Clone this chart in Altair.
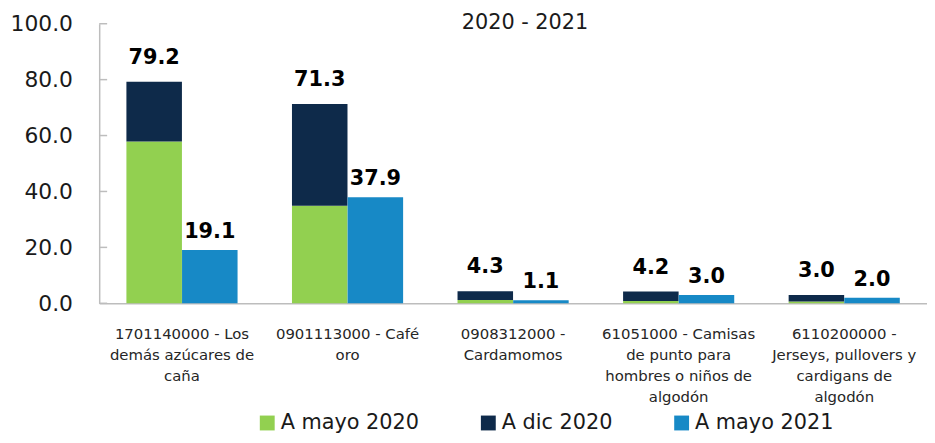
import altair as alt
import pandas as pd

categories = [
    "1701140000 - Los|demás azúcares de|caña",
    "0901113000 - Café|oro",
    "0908312000 -|Cardamomos",
    "61051000 - Camisas|de punto para|hombres o niños de|algodón",
    "6110200000 -|Jerseys, pullovers y|cardigans de|algodón",
]
mayo_2020 = [57.9, 34.9, 1.2, 0.8, 0.6]
dic_2020 = [79.2, 71.3, 4.3, 4.2, 3.0]
mayo_2021 = [19.1, 37.9, 1.1, 3.0, 2.0]
series = ["A mayo 2020", "A dic 2020", "A mayo 2021"]
colors = ["#92D050", "#0E2A4A", "#1789C6"]
y_ticks = [0, 20, 40, 60, 80, 100]

FONT = "DejaVu Sans"

rows = []
for c, g, d, b in zip(categories, mayo_2020, dic_2020, mayo_2021):
    rows.append(dict(cat=c, grp="a", series=series[0], lo=0.0, hi=g, label=d))
    rows.append(dict(cat=c, grp="a", series=series[1], lo=g, hi=d, label=d))
    rows.append(dict(cat=c, grp="b", series=series[2], lo=0.0, hi=b, label=b))
df = pd.DataFrame(rows)
ticks_df = pd.DataFrame({"v": y_ticks})

x_enc = alt.X(
    "cat:N",
    sort=categories,
    scale=alt.Scale(paddingInner=0.328, paddingOuter=0.164),
    axis=alt.Axis(
        title=None,
        labelAngle=0,
        labelExpr="split(datum.label, '|')",
        labelFont=FONT,
        labelFontSize=15,
        labelColor="#262626",
        labelLineHeight=21,
        labelPadding=24,
        labelBaseline="top",
        ticks=False,
        domainColor="#BDBDBD",
        domainWidth=1.5,
        labelLimit=200,
    ),
)
xoff = alt.XOffset("grp:N", scale=alt.Scale(paddingInner=0, paddingOuter=0))
y_scale = alt.Scale(domain=[0, 100], nice=False)

bars = alt.Chart(df).mark_bar(size=56).encode(
    x=x_enc,
    xOffset=xoff,
    y=alt.Y(
        "hi:Q",
        scale=y_scale,
        axis=alt.Axis(
            title=None,
            values=y_ticks,
            format=".1f",
            grid=False,
            ticks=False,
            labelFont=FONT,
            labelFontSize=22,
            labelColor="#1a1a1a",
            labelPadding=27,
            domainColor="#BDBDBD",
            domainWidth=1.5,
        ),
    ),
    y2="lo:Q",
    color=alt.Color(
        "series:N",
        scale=alt.Scale(domain=series, range=colors),
        sort=series,
        legend=alt.Legend(
            title=None,
            orient="none",
            direction="horizontal",
            legendX=159,
            legendY=392,
            symbolType="square",
            symbolSize=225,
            symbolStrokeWidth=0,
            labelFont=FONT,
            labelFontSize=21,
            labelColor="#1a1a1a",
            labelOffset=3,
            columnPadding=59,
            labelLimit=300,
        ),
    ),
)

navy_labels = alt.Chart(df[df["series"] == series[1]]).mark_text(
    font=FONT, fontSize=21, fontWeight="bold", color="#000000", baseline="bottom", dy=-14
).encode(
    x=alt.X("cat:N", sort=categories),
    xOffset=alt.XOffset("grp:N"),
    y=alt.Y("label:Q", scale=y_scale),
    text=alt.Text("label:Q", format=".1f"),
)

blue_labels = alt.Chart(df[df["series"] == series[2]]).mark_text(
    font=FONT, fontSize=21, fontWeight="bold", color="#000000", baseline="bottom", dy=-8
).encode(
    x=alt.X("cat:N", sort=categories),
    xOffset=alt.XOffset("grp:N"),
    y=alt.Y("label:Q", scale=y_scale),
    text=alt.Text("label:Q", format=".1f"),
)

tick_rules = alt.Chart(ticks_df).mark_rule(color="#BDBDBD", strokeWidth=1.5).encode(
    y=alt.Y("v:Q", scale=y_scale),
    x=alt.value(0),
    x2=alt.value(8),
)

chart = alt.layer(bars, tick_rules, navy_labels, blue_labels).properties(
    width=835,
    height=282,
    title=alt.TitleParams(
        "2020 - 2021",
        font=FONT,
        fontSize=21,
        fontWeight="normal",
        color="#1a1a1a",
        anchor="middle",
        offset=-20,
        dx=12,
    ),
    autosize=alt.AutoSizeParams(type="none"),
    padding={"left": 92, "top": 14, "right": 0, "bottom": 131},
).configure_view(stroke=None)

chart.save("out.html", embed_options={"renderer": "svg", "actions": False})
